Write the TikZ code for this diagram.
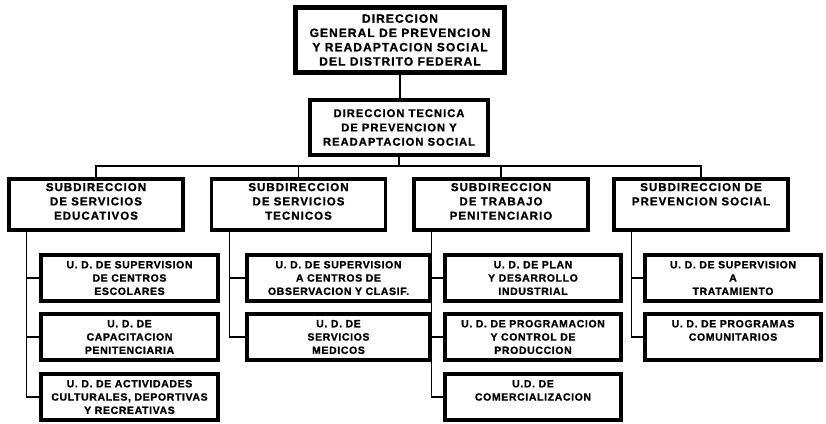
\documentclass[tikz,border=0pt]{standalone}
\usepackage{fontspec}
\setmainfont{Liberation Sans}
\newfontfamily\orgfont{Liberation Sans}[LetterSpace=9,FakeBold=1.2]
\newfontfamily\unitfont{Liberation Sans}[LetterSpace=6,FakeBold=1.2]
\begin{document}
\begin{tikzpicture}[x=1pt,y=-1pt,
  box/.style={draw, rectangle, inner sep=0pt, align=center, line width=3.5pt, fill=white},
  head/.style={box, font=\orgfont\bfseries\fontsize{11.2}{14.3}\selectfont},
  subbox/.style={box, font=\orgfont\bfseries\fontsize{11.5}{14.3}\selectfont, minimum width=174pt, minimum height=51pt},
  unit/.style={box, font=\unitfont\bfseries\fontsize{10.5}{13.3}\selectfont, minimum height=46pt},
  link/.style={line width=1.4pt}]
\useasboundingbox (0,0) rectangle (826,423);
\fill[white] (0,0) rectangle (826,423);

% top levels
\node[head, font=\orgfont\bfseries\fontsize{12}{14.3}\selectfont, line width=4.5pt, minimum width=209pt, minimum height=65pt] (top) at (400,40)
  {DIRECCION\\GENERAL DE PREVENCION\\Y READAPTACION SOCIAL\\DEL DISTRITO FEDERAL};
\node[head, minimum width=178pt, minimum height=55pt] (tech) at (399,127.5)
  {DIRECCION TECNICA\\DE PREVENCION Y\\READAPTACION SOCIAL};

% subdirecciones
\node[subbox] (sub1) at (96,204.5) {SUBDIRECCION\\DE SERVICIOS\\EDUCATIVOS\\[-8pt]\mbox{}};
\node[subbox] (sub2) at (298.5,204.5) {SUBDIRECCION\\DE SERVICIOS\\TECNICOS\\[-8pt]\mbox{}};
\node[subbox] (sub3) at (501,204.5) {SUBDIRECCION\\DE TRABAJO\\PENITENCIARIO\\[-8pt]\mbox{}};
\node[subbox] (sub4) at (701,204.5) {SUBDIRECCION DE\\PREVENCION SOCIAL\\\mbox{}\\[-8pt]\mbox{}};

% unidades
\node[unit, minimum width=177pt] (c11) at (129.5,278) {U. D. DE SUPERVISION\\DE CENTROS\\ESCOLARES};
\node[unit, minimum width=177pt] (c12) at (129.5,337) {U. D. DE\\CAPACITACION\\PENITENCIARIA};
\node[unit, minimum width=177pt] (c13) at (129.5,397) {U. D. DE ACTIVIDADES\\CULTURALES, DEPORTIVAS\\Y RECREATIVAS};

\node[unit, minimum width=183pt] (c21) at (338.5,278) {U. D. DE SUPERVISION\\A CENTROS DE\\OBSERVACION Y CLASIF.};
\node[unit, minimum width=183pt] (c22) at (338.5,337) {U. D. DE\\SERVICIOS\\MEDICOS};

\node[unit, minimum width=176pt] (c31) at (533,278) {U. D. DE PLAN\\Y DESARROLLO\\INDUSTRIAL};
\node[unit, minimum width=176pt] (c32) at (533,337) {U. D. DE PROGRAMACION\\Y CONTROL DE\\PRODUCCION};
\node[unit, minimum width=176pt] (c33) at (533,397) {U.D. DE\\COMERCIALIZACION\\\mbox{}};

\node[unit, minimum width=176pt] (c41) at (733,278) {U. D. DE SUPERVISION\\A\\TRATAMIENTO};
\node[unit, minimum width=176pt] (c42) at (733,337) {U. D. DE PROGRAMAS\\COMUNITARIOS\\\mbox{}};

% connectors
\coordinate (bus) at (400,166);
\draw[link] (top.south) -- (top.south |- tech.north);
\draw[link] (tech.south) -- (tech.south |- bus);
\draw[link] (sub1.north) |- (bus) -| (sub4.north);
\draw[link] (sub2.north) -- (sub2.north |- bus);
\draw[link] (sub3.north) -- (sub3.north |- bus);

\draw[link] ([xshift=19.5pt]sub1.south west) |- (c13.west);
\draw[link] ([xshift=19.5pt]sub1.south west |- c11.west) -- (c11.west);
\draw[link] ([xshift=19.5pt]sub1.south west |- c12.west) -- (c12.west);

\draw[link] ([xshift=19.5pt]sub2.south west) |- (c22.west);
\draw[link] ([xshift=19.5pt]sub2.south west |- c21.west) -- (c21.west);

\draw[link] ([xshift=19.5pt]sub3.south west) |- (c33.west);
\draw[link] ([xshift=19.5pt]sub3.south west |- c31.west) -- (c31.west);
\draw[link] ([xshift=19.5pt]sub3.south west |- c32.west) -- (c32.west);

\draw[link] ([xshift=19.5pt]sub4.south west) |- (c42.west);
\draw[link] ([xshift=19.5pt]sub4.south west |- c41.west) -- (c41.west);
\end{tikzpicture}
\end{document}
